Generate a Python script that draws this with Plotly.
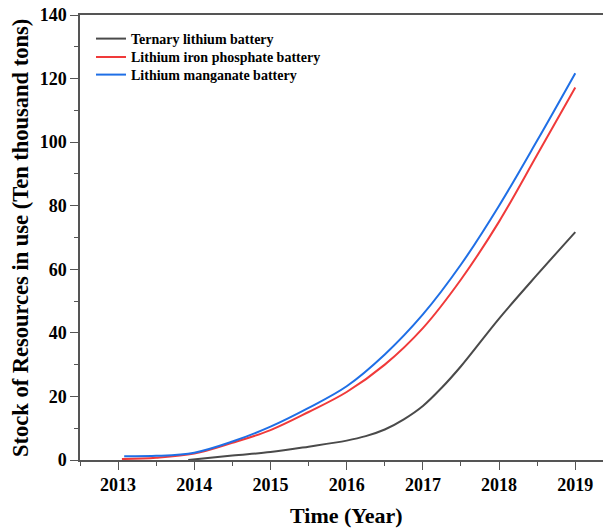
import plotly.graph_objects as go

# Data
ternary_years = [2013.92, 2014.5, 2015.0, 2015.5, 2016.0, 2016.25, 2016.5, 2016.75, 2017.0, 2017.25, 2017.5, 2018.0, 2018.5, 2019.0]
ternary_vals = [0.0, 1.4, 2.5, 4.2, 6.1, 7.5, 9.6, 12.8, 17.0, 22.8, 29.5, 44.5, 58.3, 71.7]

lfp_years = [2013.05, 2013.5, 2014.0, 2014.5, 2015.0, 2015.5, 2016.0, 2016.5, 2017.0, 2017.5, 2018.0, 2018.5, 2019.0]
lfp_vals = [0.3, 0.7, 2.0, 5.4, 9.4, 15.1, 21.4, 30.0, 41.5, 56.8, 75.0, 96.0, 117.2]

lmo_years = [2013.08, 2013.5, 2014.0, 2014.5, 2015.0, 2015.5, 2016.0, 2016.5, 2017.0, 2017.5, 2018.0, 2018.5, 2019.0]
lmo_vals = [1.2, 1.3, 2.3, 5.8, 10.5, 16.4, 23.2, 33.2, 45.8, 61.5, 80.0, 100.5, 121.7]

series_names = ["Ternary lithium battery", "Lithium iron phosphate battery", "Lithium manganate battery"]
series_colors = ["#4a4a4a", "#f03a3a", "#1f6fe6"]
x_ticks = [2013, 2014, 2015, 2016, 2017, 2018, 2019]

FONT = "Liberation Serif"
legend_ids = ["legend", "legend2", "legend3"]
legend_tops = [23, 41.3, 59]  # px from top of page

fig = go.Figure()
for name, xs, ys, col, lg in zip(series_names,
                                 [ternary_years, lfp_years, lmo_years],
                                 [ternary_vals, lfp_vals, lmo_vals],
                                 series_colors, legend_ids):
    fig.add_trace(go.Scatter(x=xs, y=ys, mode="lines", name=name, legend=lg,
                             line=dict(color=col, width=2, shape="spline", smoothing=1)))

axis_common = dict(
    showline=True, linecolor="#555555", linewidth=1.5,
    ticks="outside", ticklen=8, tickwidth=1.2, tickcolor="#555555",
    showgrid=False, zeroline=False, automargin=False,
    tickfont=dict(family=FONT, size=18, color="black", weight="bold"),
)

legend_style = dict(xanchor="left", yanchor="top", bgcolor="rgba(0,0,0,0)",
                    font=dict(family=FONT, size=14, color="black", weight="bold"))
legends = {}
for lg, top in zip(legend_ids, legend_tops):
    legends[lg] = dict(x=(91-80)/523, y=(460-top)/445, **legend_style)

fig.update_layout(
    width=603, height=529,
    margin=dict(l=80, r=0, t=15, b=69, autoexpand=False),
    paper_bgcolor="white", plot_bgcolor="white",
    xaxis=dict(range=[2012.5, 2019.364], tickvals=x_ticks, ticktext=[str(v) for v in x_ticks],
               mirror=True, tickangle=0,
               minor=dict(ticks="outside", ticklen=4, dtick=0.5, tick0=2012.5, tickcolor="#555555", tickwidth=1.2),
               **axis_common),
    yaxis=dict(range=[0, 140], dtick=20, tick0=0,
               minor=dict(ticks="outside", ticklen=4, dtick=10, tickcolor="#555555", tickwidth=1.2),
               **axis_common),
    showlegend=True,
    annotations=[
        dict(text="Time (Year)", xref="paper", yref="paper",
             x=(346.5-80)/523, y=(460-515.8)/445, xanchor="center", yanchor="middle",
             showarrow=False, font=dict(family=FONT, size=22, color="black", weight="bold")),
        dict(text="Stock of Resources in use (Ten thousand tons)", xref="paper", yref="paper",
             x=(21-80)/523, y=(460-238)/445, xanchor="center", yanchor="middle", textangle=-90,
             showarrow=False, font=dict(family=FONT, size=22.5, color="black", weight="bold")),
    ],
    **legends,
)

fig.write_html("out.html")
